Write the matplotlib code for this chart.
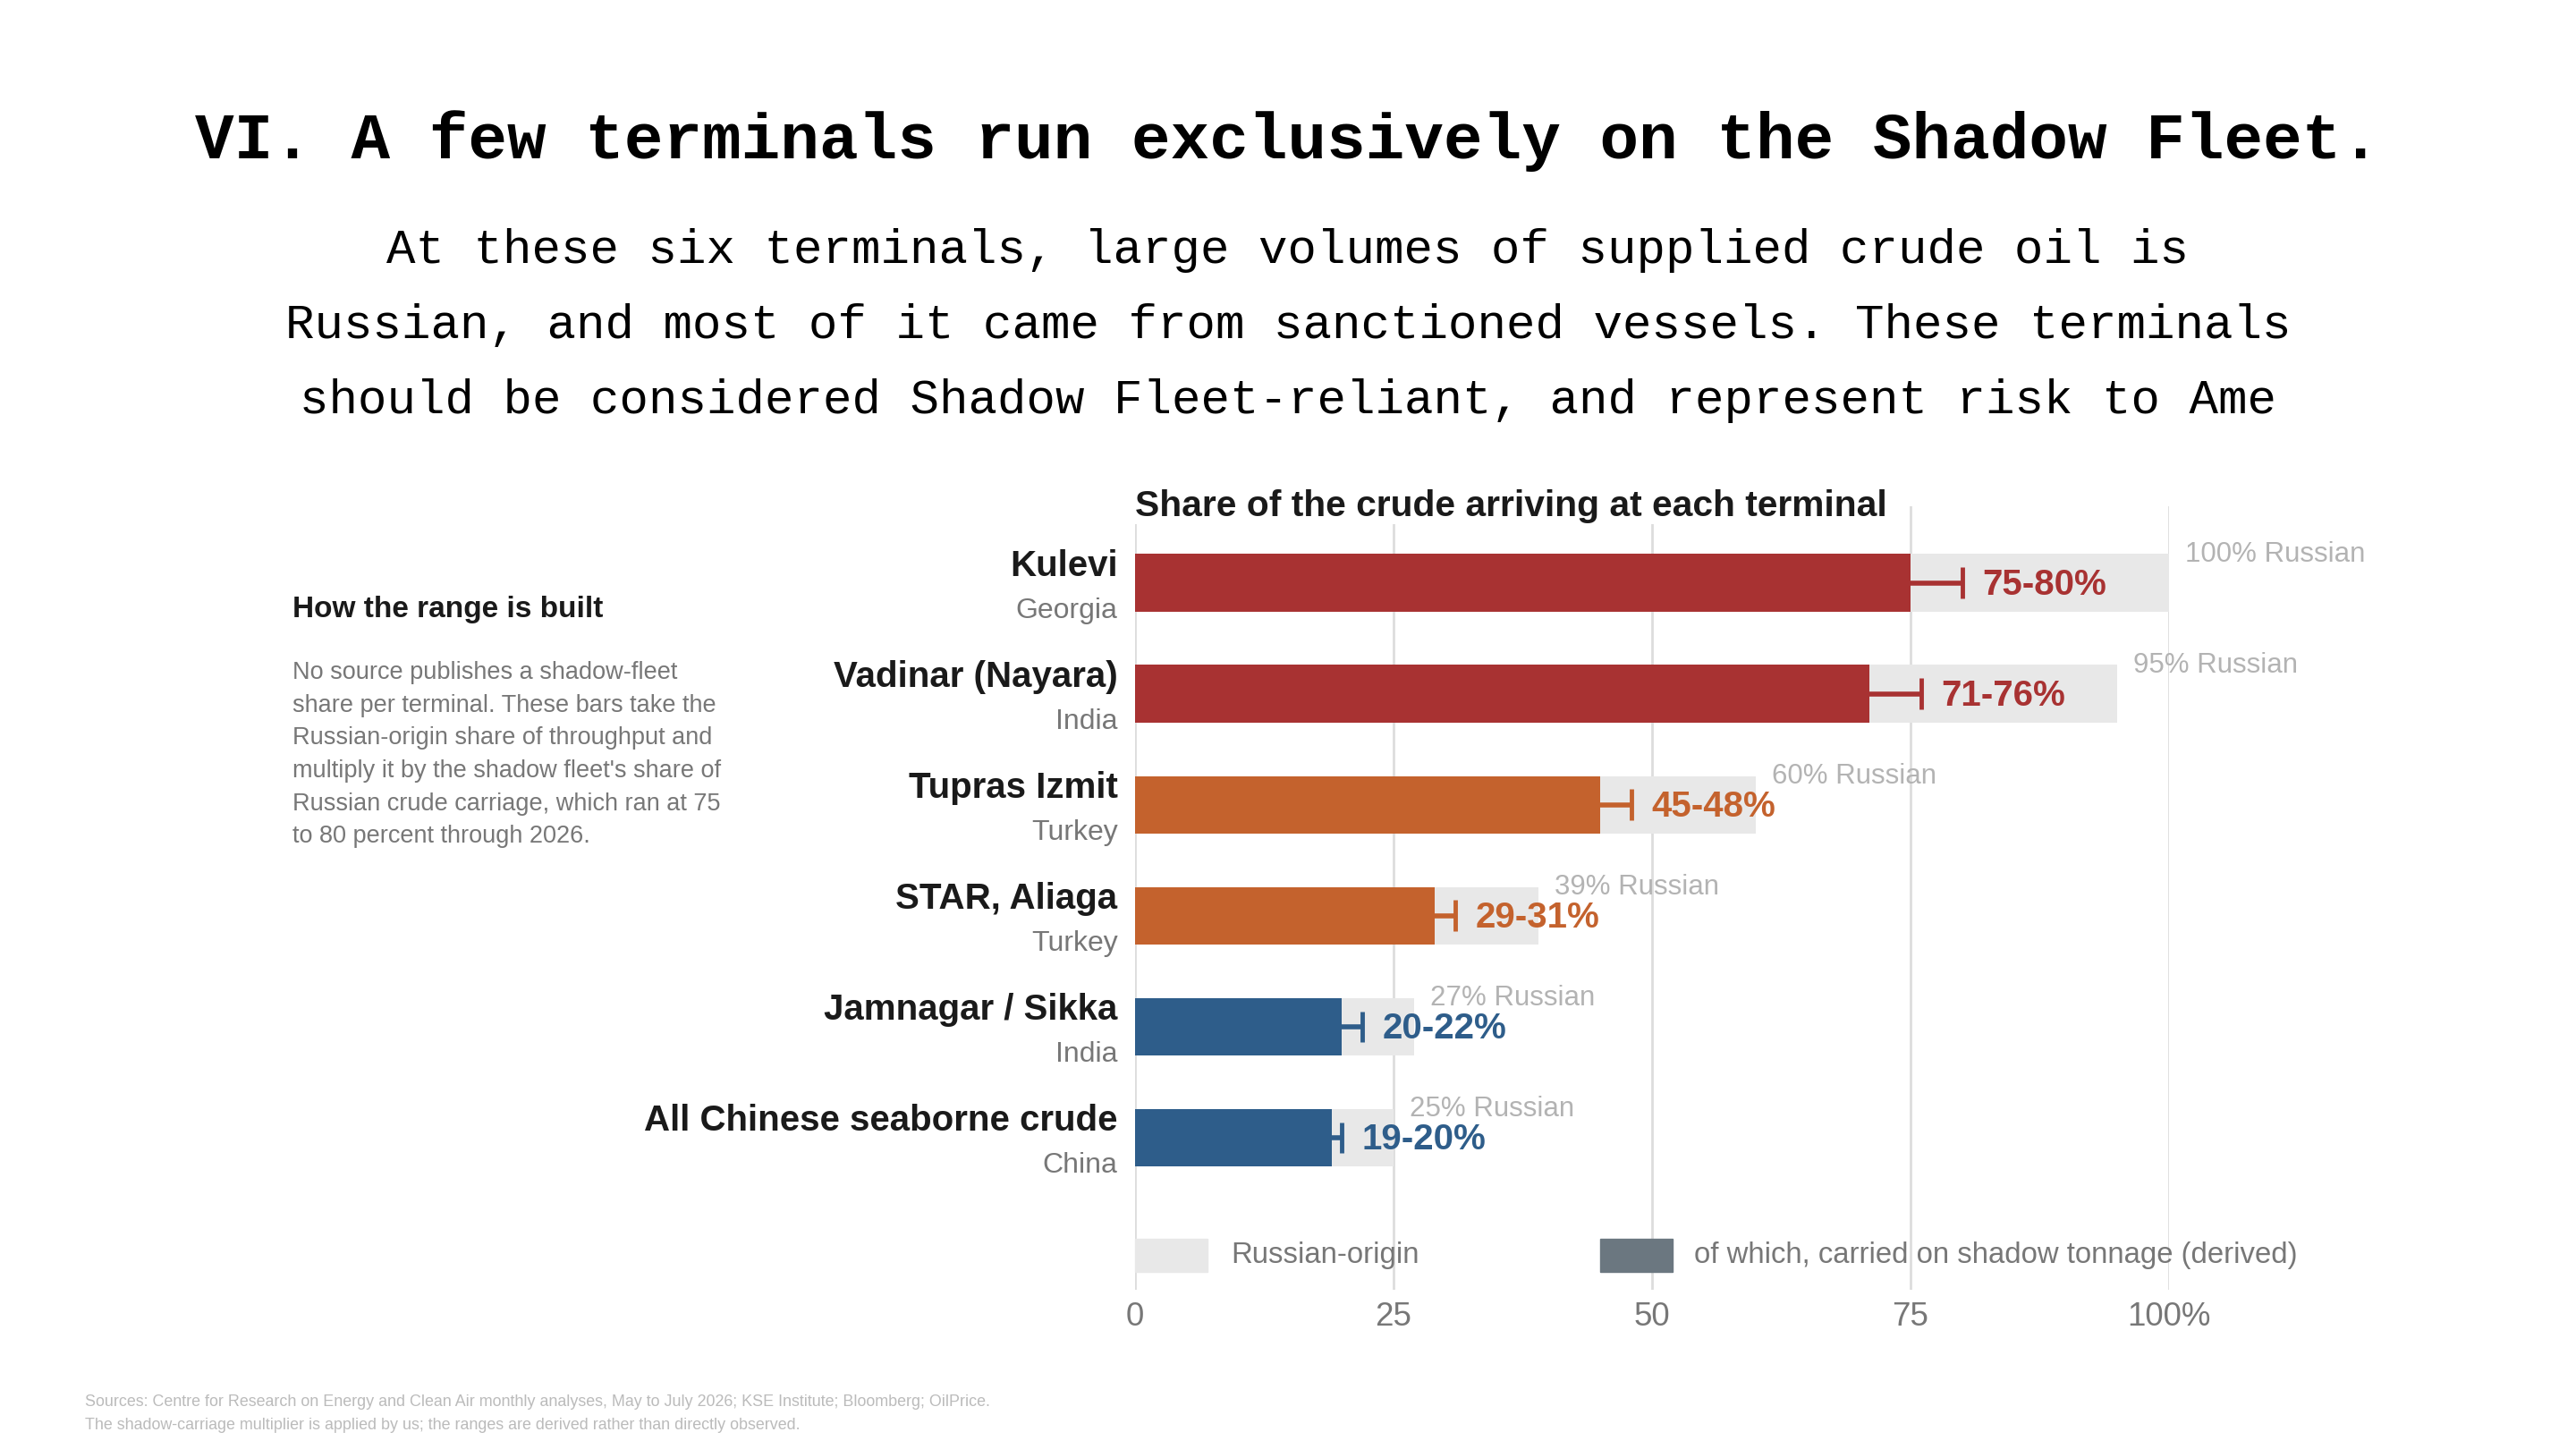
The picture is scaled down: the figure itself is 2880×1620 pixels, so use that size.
import matplotlib
matplotlib.use('Agg')
import matplotlib.pyplot as plt
from matplotlib.patches import Rectangle
import numpy as np

plt.rcParams['font.family'] = ['Liberation Sans', 'DejaVu Sans']

# data
terminals = ['Kulevi', 'Vadinar (Nayara)', 'Tupras Izmit', 'STAR, Aliaga',
             'Jamnagar / Sikka', 'All Chinese seaborne crude']
countries = ['Georgia', 'India', 'Turkey', 'Turkey', 'India', 'China']
russian_share = [100, 95, 60, 39, 27, 25]
shadow_low = [75, 71, 45, 29, 20, 19]
shadow_high = [80, 76, 48, 31, 22, 20]
ticks = [0, 25, 50, 75, 100]
tick_labels = ['0', '25', '50', '75', '100%']

subtitle_lines = [
    "At these six terminals, large volumes of supplied crude oil is",
    "Russian, and most of it came from sanctioned vessels. These terminals",
    "should be considered Shadow Fleet-reliant, and represent risk to Ame",
]
note_lines = [
    "No source publishes a shadow-fleet",
    "share per terminal. These bars take the",
    "Russian-origin share of throughput and",
    "multiply it by the shadow fleet's share of",
    "Russian crude carriage, which ran at 75",
    "to 80 percent through 2026.",
]
source_lines = [
    "Sources: Centre for Research on Energy and Clean Air monthly analyses, May to July 2026; KSE Institute; Bloomberg; OilPrice.",
    "The shadow-carriage multiplier is applied by us; the ranges are derived rather than directly observed.",
]

RED = '#a83232'
ORANGE = '#c4622d'
BLUE = '#2e5d8a'
bar_colors = [RED, RED, ORANGE, ORANGE, BLUE, BLUE]
BG = '#e8e8e8'
SHADOW_KEY = '#6b7780'
GRAY = '#777777'
LIGHT = '#b3b3b3'
INK = '#1a1a1a'

W, H = 2880, 1620
fig = plt.figure(figsize=(28.8, 16.2), dpi=100)
fig.patch.set_facecolor('white')

def fy(px):
    return 1 - px / H

# titles
fig.text(0.5, fy(158), "VI. A few terminals run exclusively on the Shadow Fleet.",
         ha='center', va='center', fontsize=52.3, fontweight='bold',
         family='Liberation Mono', color='black')
for i, line in enumerate(subtitle_lines):
    fig.text(0.5, fy(280 + i * 84), line, ha='center', va='center',
             fontsize=39, family='Liberation Mono', color='black')

# chart
ax = fig.add_axes([1269 / W, fy(1442), (2425 - 1269) / W, (1442 - 566) / H])
y = np.arange(len(terminals))
bh = 0.52
ax.barh(y, russian_share, height=bh, color=BG, zorder=2)
ax.barh(y, shadow_low, height=bh, color=bar_colors, zorder=3)

for i in range(len(terminals)):
    c = bar_colors[i]
    ax.plot([shadow_low[i], shadow_high[i]], [y[i], y[i]], color=c, lw=4,
            solid_capstyle='butt', zorder=4)
    ax.plot([shadow_high[i], shadow_high[i]], [y[i] - 0.14, y[i] + 0.14],
            color=c, lw=3.5, solid_capstyle='butt', zorder=4)
    ax.annotate(f"{shadow_low[i]}-{shadow_high[i]}%", (shadow_high[i], y[i]),
                xytext=(16, -1.5), textcoords='offset points', ha='left',
                va='center', fontsize=29, fontweight='bold', color=c, zorder=5)
    ax.annotate(f"{russian_share[i]}% Russian", (russian_share[i], y[i] - bh / 2),
                xytext=(13, -0.5), textcoords='offset points', ha='left',
                va='center', fontsize=22.5, color=LIGHT, zorder=5,
                annotation_clip=False)
    ax.annotate(terminals[i], (0, y[i]), xytext=(-14, 13.5),
                textcoords='offset points', ha='right', va='center',
                fontsize=29, fontweight='bold', color=INK, annotation_clip=False)
    ax.annotate(countries[i], (0, y[i]), xytext=(-14, -22.5),
                textcoords='offset points', ha='right', va='center',
                fontsize=23, color=GRAY, annotation_clip=False)

ax.set_xlim(0, 100)
ax.set_ylim(6.37, -0.69)
ax.set_xticks(ticks)
ax.set_xticklabels(tick_labels)
ax.set_yticks([])
ax.tick_params(axis='x', length=0, pad=9, labelsize=26.5, labelcolor=GRAY)
ax.grid(axis='x', color='#dddddd', lw=2, zorder=0)
ax.set_axisbelow(True)
for s in ax.spines.values():
    s.set_visible(False)

# legend
ax.add_patch(Rectangle((0, 0.023), 0.070, 0.042, transform=ax.transAxes,
                       color=BG, clip_on=False, zorder=3))
ax.text(0.0926, 0.044, "Russian-origin", transform=ax.transAxes, ha='left',
        va='center', fontsize=23.7, color=GRAY)
ax.add_patch(Rectangle((0.4498, 0.023), 0.070, 0.042, transform=ax.transAxes,
                       color=SHADOW_KEY, clip_on=False, zorder=3))
ax.text(0.5406, 0.044, "of which, carried on shadow tonnage (derived)",
        transform=ax.transAxes, ha='left', va='center', fontsize=23.7, color=GRAY)

fig.text(1269 / W, fy(566), "Share of the crude arriving at each terminal",
         ha='left', va='center', fontsize=29.3, fontweight='bold', color=INK,
         bbox=dict(facecolor='white', edgecolor='none', pad=1))

# side note
fig.text(327 / W, fy(682), "How the range is built", ha='left', va='center',
         fontsize=24, fontweight='bold', color=INK)
for i, line in enumerate(note_lines):
    fig.text(327 / W, fy(752 + i * 36.7), line, ha='left', va='center',
             fontsize=19.5, color=GRAY)

# sources
for i, line in enumerate(source_lines):
    fig.text(95 / W, fy(1568 + i * 26), line, ha='left', va='center',
             fontsize=12.9, color='#bbbbbb')

fig.savefig('out.png', dpi=100, facecolor='white')
